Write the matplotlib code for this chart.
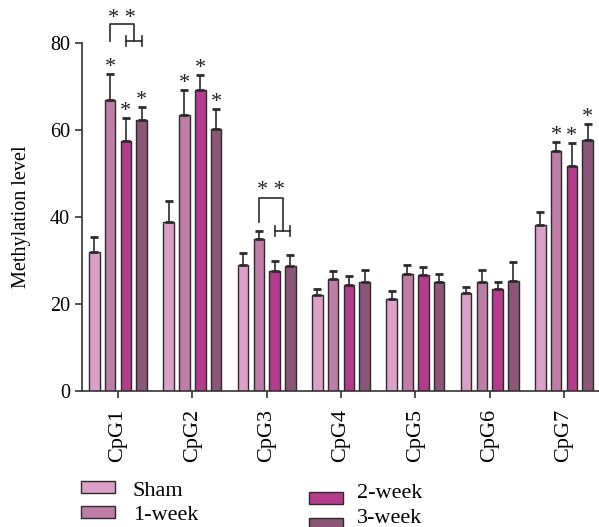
import matplotlib
matplotlib.use("Agg")
import matplotlib.pyplot as plt
from matplotlib.patches import Rectangle
import numpy as np

plt.rcParams['font.family'] = ['Liberation Serif', 'DejaVu Serif']

sites = ["CpG1", "CpG2", "CpG3", "CpG4", "CpG5", "CpG6", "CpG7"]
groups = ["Sham", "1-week", "2-week", "3-week"]

sham = [32.0, 38.9, 29.0, 22.0, 21.2, 22.6, 38.1]
week1 = [66.9, 63.5, 34.9, 25.8, 27.0, 25.1, 55.1]
week2 = [57.5, 69.1, 27.5, 24.4, 26.6, 23.4, 51.7]
week3 = [62.3, 60.3, 28.8, 25.1, 25.1, 25.3, 57.7]

sham_err = [3.5, 4.8, 2.8, 1.4, 1.9, 1.3, 3.0]
week1_err = [6.0, 5.8, 1.9, 1.8, 2.0, 2.7, 2.1]
week2_err = [5.3, 3.5, 2.4, 2.1, 1.8, 1.7, 5.3]
week3_err = [3.0, 4.6, 2.5, 2.7, 1.7, 4.4, 3.6]

colors = ["#DCA0C8", "#BE7DA6", "#B43C8C", "#8C5678"]

# significance stars above individual bars: (site index, group index)
starred = [(0, 1), (0, 2), (0, 3), (1, 1), (1, 2), (1, 3), (6, 1), (6, 2), (6, 3)]

means = [sham, week1, week2, week3]
errs = [sham_err, week1_err, week2_err, week3_err]

fig = plt.figure(figsize=(5.99, 5.27), dpi=100)
ax = fig.add_axes([82 / 599, 1 - 391 / 527, 1 - 82 / 599, (391 - 43) / 527])

x = np.arange(len(sites))
pitch = 0.2125
width = 0.142
offsets = (np.arange(4) - 1.5) * pitch

for g in range(4):
    ax.bar(x + offsets[g], means[g], width, color=colors[g],
           edgecolor="#2b2b2b", linewidth=1.0, zorder=2)
    ax.errorbar(x + offsets[g], means[g],
                yerr=[np.zeros(len(sites)), errs[g]],
                fmt="none", ecolor="#2b2b2b", elinewidth=1.2,
                capsize=2.6, capthick=2.0, zorder=3)

for s, g in starred:
    top = means[g][s] + errs[g][s]
    ax.text(s + offsets[g], top - 0.7, "*", ha="center", va="bottom",
            fontsize=16, color="#222222")


def bracket(site, y_high, y_left_end, y_low, star_y):
    """Nested bracket: 1-week vs. the pooled 2/3-week pair."""
    x1 = site + offsets[1]
    x2 = site + offsets[2]
    x3 = site + offsets[3]
    xm = (x2 + x3) / 2
    kw = dict(color="#2b2b2b", lw=1.2, clip_on=False, zorder=4)
    ax.plot([x1, x1, xm, xm], [y_left_end, y_high, y_high, y_low], **kw)
    ax.plot([x2, x3], [y_low, y_low], **kw)
    ax.plot([x2, x2], [y_low - 1.2, y_low + 1.2], **kw)
    ax.plot([x3, x3], [y_low - 1.2, y_low + 1.2], **kw)
    ax.text((x1 + xm) / 2, star_y, "* *", ha="center", va="center",
            fontsize=16, color="#222222", clip_on=False)


bracket(0, 84.4, 80.5, 80.5, 85.6)
bracket(2, 44.4, 38.9, 36.8, 46.0)

ax.set_xlim(-0.485, 6.47)
ax.set_ylim(0, 80)
ax.set_yticks([0, 20, 40, 60, 80])
ax.set_xticks(x)
ax.set_xticklabels(sites, rotation=90, fontsize=16)
ax.tick_params(axis="y", labelsize=14.5, length=5, width=1.2, color="#333333")
ax.tick_params(axis="x", length=5, width=1.2, color="#333333", pad=8)
ax.set_ylabel("Methylation level", fontsize=14.5, labelpad=14)
for side in ("top", "right"):
    ax.spines[side].set_visible(False)
for side in ("left", "bottom"):
    ax.spines[side].set_linewidth(1.2)
    ax.spines[side].set_color("#333333")

# legend in two staggered columns below the axes
patch_pos = [(81, 481), (81, 506), (309, 492), (309, 518)]
text_pos = [(133, 489), (133, 513), (357, 491), (357, 516)]
for (px, py), (tx, ty), lab, col in zip(patch_pos, text_pos, groups, colors):
    fig.patches.append(Rectangle((px / 599, 1 - (py + 12) / 527), 34 / 599, 12 / 527,
                                 transform=fig.transFigure, facecolor=col,
                                 edgecolor="#2b2b2b", linewidth=1.0))
    fig.text(tx / 599, 1 - ty / 527, lab, ha="left", va="center_baseline",
             fontsize=16)

fig.savefig("out.png", dpi=100)
